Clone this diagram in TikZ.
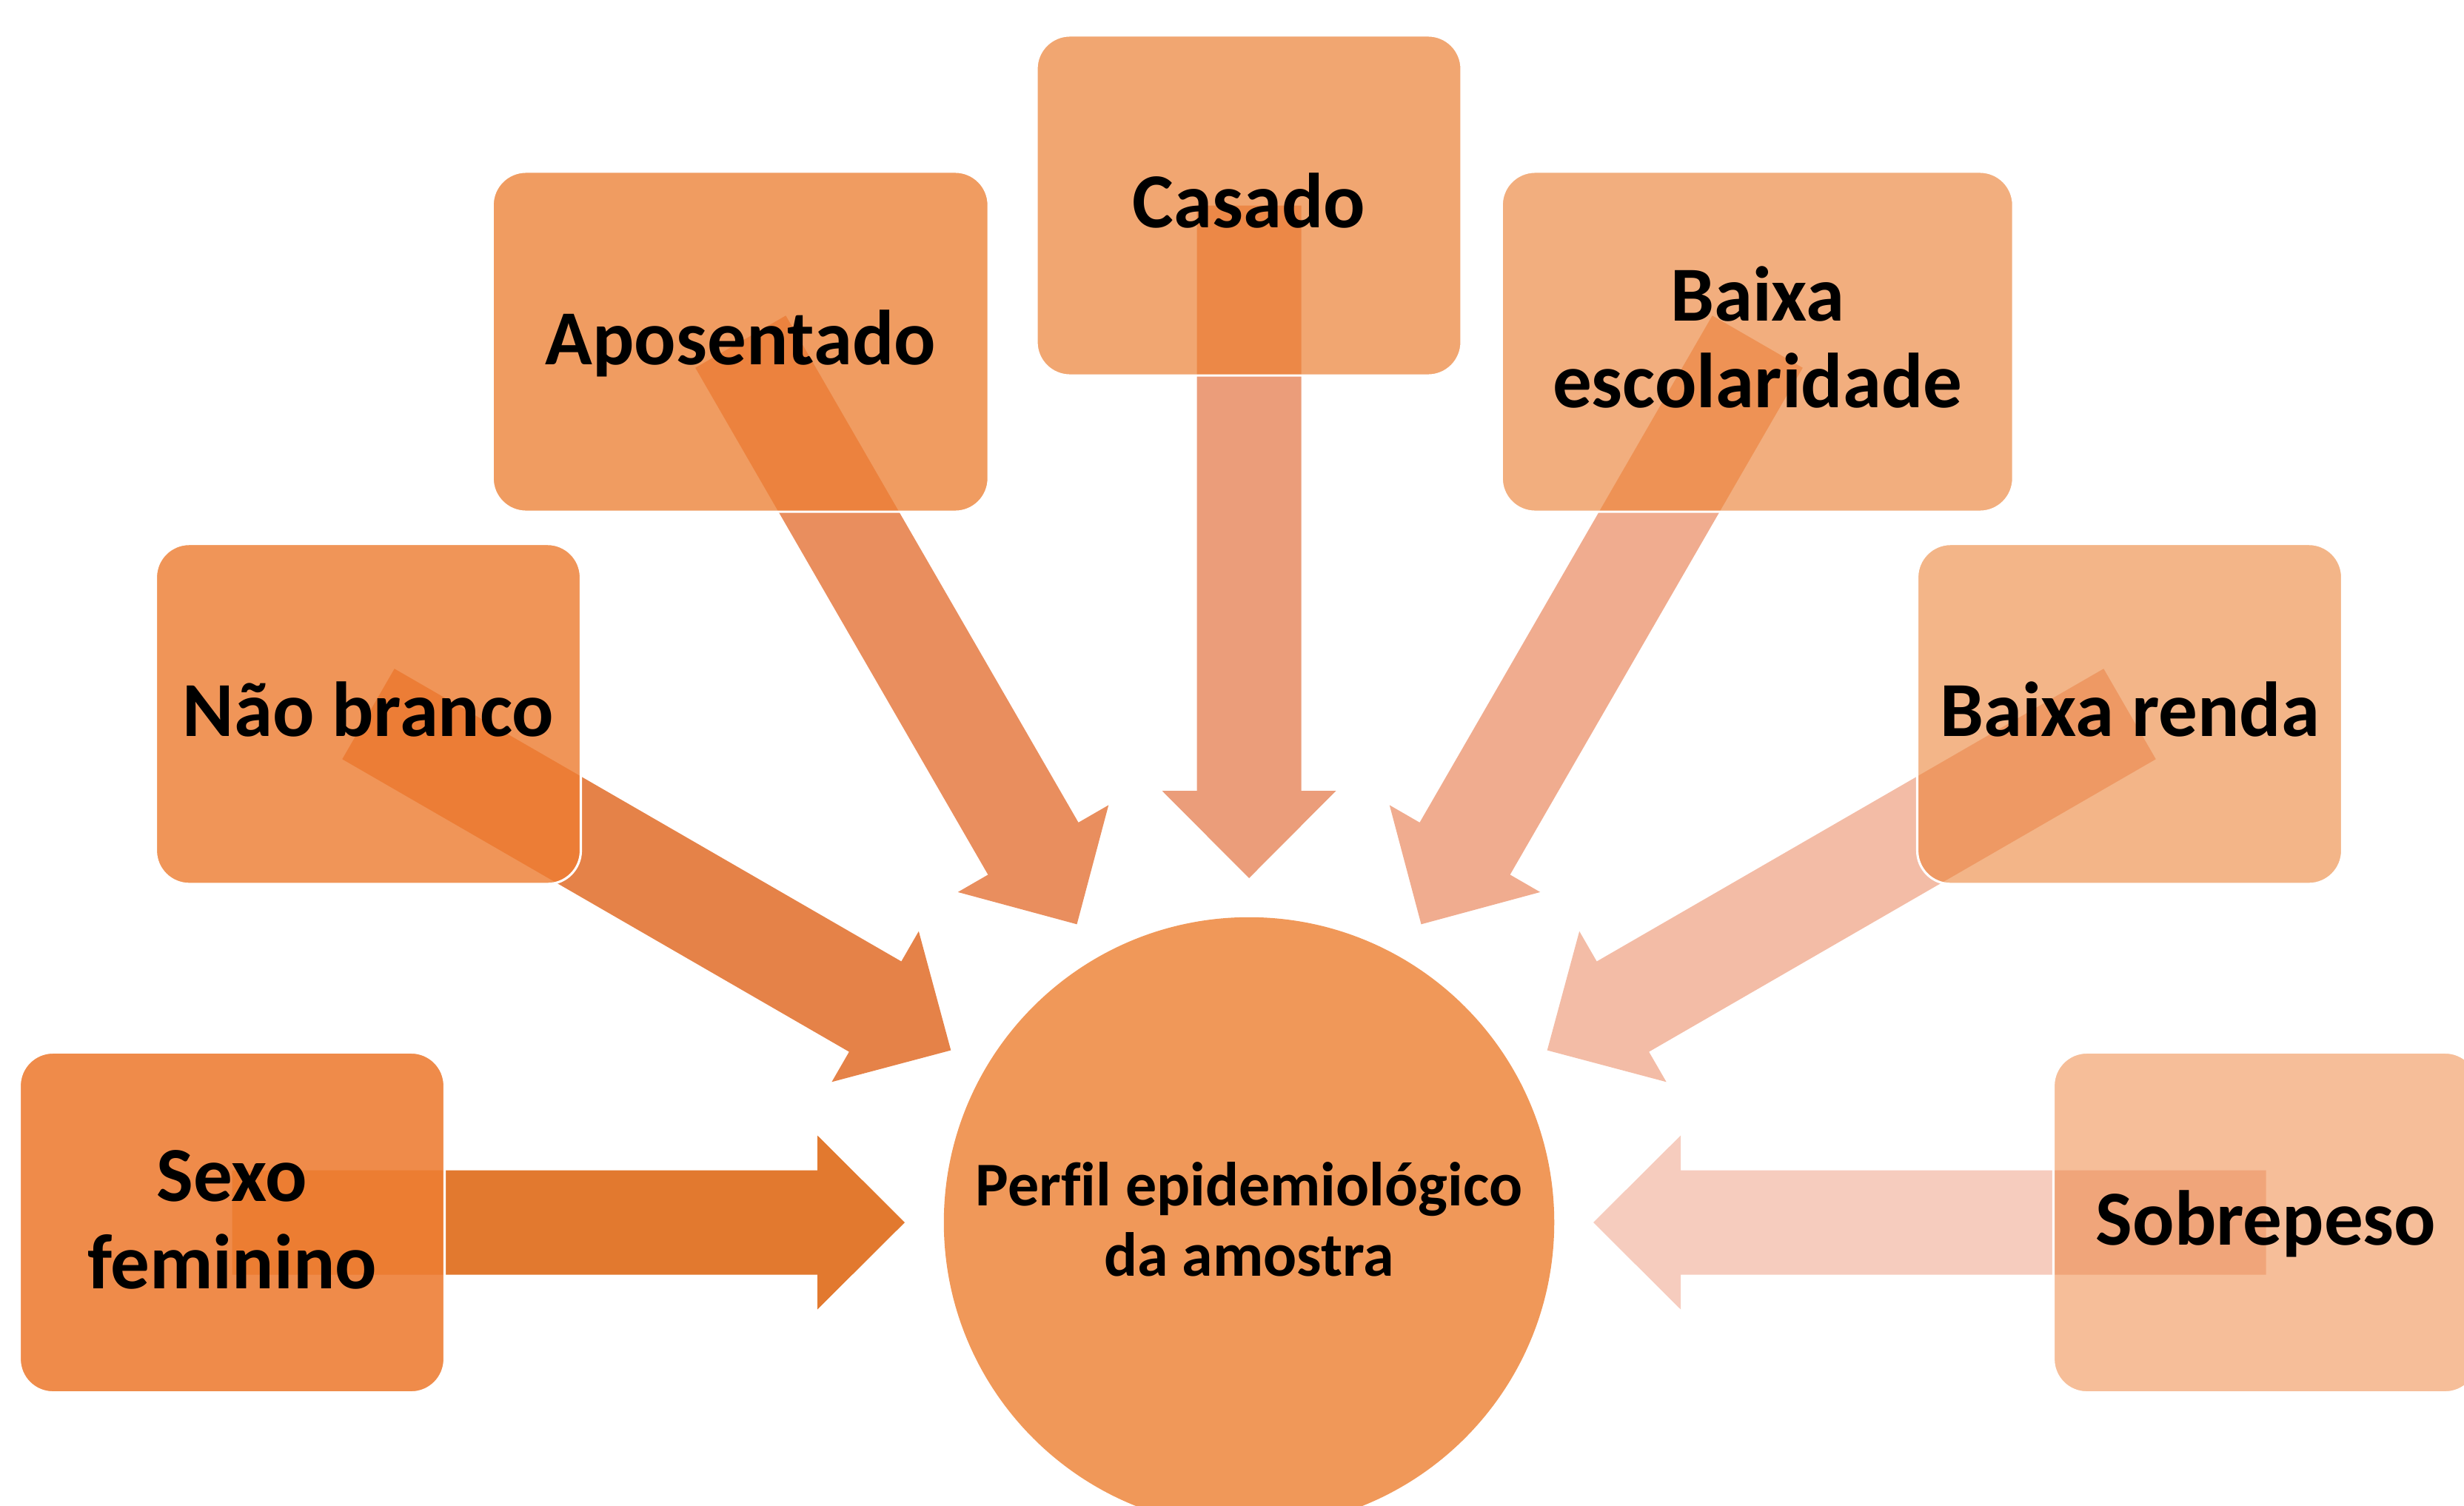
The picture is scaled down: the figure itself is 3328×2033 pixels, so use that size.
\documentclass[tikz,border=0pt]{standalone}
\usepackage{fontspec}
\setmainfont{Carlito}[Ligatures=NoCommon]
\usetikzlibrary{calc}
\definecolor{hubc}{HTML}{F09859}
\definecolor{b1}{HTML}{EF8B4A}\definecolor{a1}{HTML}{E2792F}\definecolor{o1}{HTML}{EC7D32}
\definecolor{b2}{HTML}{F09558}\definecolor{a2}{HTML}{E58248}\definecolor{o2}{HTML}{EC7D36}
\definecolor{b3}{HTML}{F09C61}\definecolor{a3}{HTML}{E98E5E}\definecolor{o3}{HTML}{EC823E}
\definecolor{b4}{HTML}{F1A671}\definecolor{a4}{HTML}{EB9D7A}\definecolor{o4}{HTML}{EC8847}
\definecolor{b5}{HTML}{F2AE7E}\definecolor{a5}{HTML}{F0AC8F}\definecolor{o5}{HTML}{EE9255}
\definecolor{b6}{HTML}{F3B588}\definecolor{a6}{HTML}{F3BCA6}\definecolor{o6}{HTML}{EE9964}
\definecolor{b7}{HTML}{F6BE99}\definecolor{a7}{HTML}{F6CCBE}\definecolor{o7}{HTML}{F0A57A}
\newcommand\spokearrow[2]{%
  \fill[#2, shift={(hub.center)}, rotate=#1]
    (1373.5,70.5) -- (583,70.5) -- (583,117.5) -- (465,0) -- (583,-117.5) -- (583,-70.5) -- (1373.5,-70.5) -- cycle;}
% #1 name, #2 angle, #3 x, #4 y, #5 width, #6 box colour, #7 arrow colour, #8 overlap colour
\newcommand\spoke[8]{%
  \spokearrow{#2}{#7}
  \node[boxshape, minimum width=#5*0.01cm, fill=#6] (#1) at (#3,#4) {};
  \begin{scope}
    \clip[rounded corners=0.45cm] (#1.south west) rectangle (#1.north east);
    \spokearrow{#2}{#8}
  \end{scope}
  \draw[white, line width=0.9pt, rounded corners=0.45cm] (#1.south west) rectangle (#1.north east);
}
\begin{document}
\begin{tikzpicture}[x=0.01cm, y=-0.01cm,
  boxshape/.style={rectangle, rounded corners=0.45cm, minimum height=4.59cm, inner sep=0pt, outer sep=0pt},
  lab/.style={font=\bfseries\fontsize{29.9}{33.3}\selectfont, align=center, anchor=base, inner sep=0pt},
  hublab/.style={font=\bfseries\fontsize{23.9}{27}\selectfont, align=center, anchor=base, inner sep=0pt}]
\useasboundingbox (0,0) rectangle (3328,2033);
\clip (0,0) rectangle (3328,2033);
\node[circle, fill=hubc, minimum size=8.24cm, inner sep=0pt] (hub) at (1687,1651) {};
\spoke{sexo}{180}{313.5}{1651}{574}{b1}{a1}{o1}
\spoke{naobr}{150}{497.5}{964.25}{574}{b2}{a2}{o2}
\spoke{apos}{120}{1000.25}{461.5}{670}{b3}{a3}{o3}
\spoke{casado}{90}{1687}{277.5}{574}{b4}{a4}{o4}
\spoke{escol}{60}{2373.75}{461.5}{691}{b5}{a5}{o5}
\spoke{renda}{30}{2876.5}{964.25}{574}{b6}{a6}{o6}
\spoke{sobre}{0}{3060.5}{1651}{574}{b7}{a7}{o7}
\node[lab] (tsexo) at (313.5,1740) {Sexo\\feminino};
\node[lab] (tnao) at (497.5,994) {Não branco};
\node[lab] (tapos) at (1000.25,492) {Aposentado};
\node[lab] (tcas) at (1687,307) {Casado};
\node[lab] (tesc) at (2373.75,550.5) {Baixa\\escolaridade};
\node[lab] (tren) at (2876.5,994) {Baixa renda};
\node[lab] (tsob) at (3060.5,1681) {Sobrepeso};
\node[hublab] (thub) at (1687,1723) {Perfil epidemiológico\\da amostra};
\end{tikzpicture}
\end{document}
